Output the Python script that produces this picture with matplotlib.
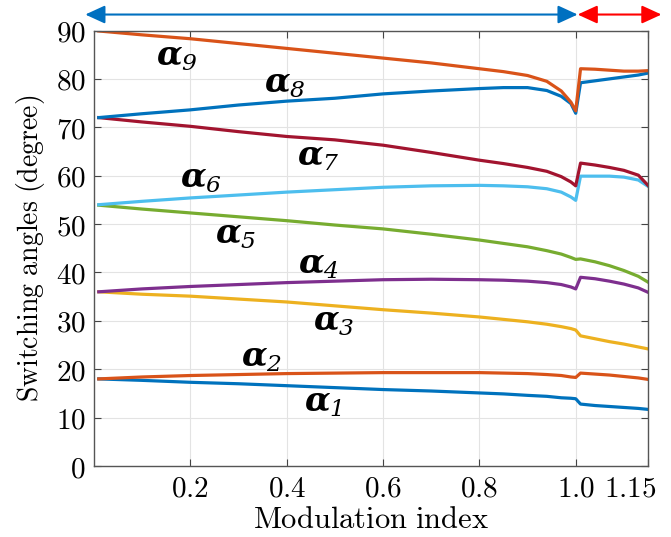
import numpy as np
import matplotlib
matplotlib.use("Agg")
import matplotlib.pyplot as plt
from matplotlib.transforms import ScaledTranslation

plt.rcParams['mathtext.fontset'] = 'cm'
plt.rcParams['mathtext.it'] = 'DejaVu Serif:italic:bold'
plt.rcParams['mathtext.rm'] = 'DejaVu Serif:italic'

# modulation index samples
m = [0.01, 0.1, 0.2, 0.3, 0.4, 0.5, 0.6, 0.7, 0.8, 0.85, 0.9, 0.94, 0.97, 0.99, 1.0,
     1.01, 1.04, 1.07, 1.1, 1.13, 1.15]

alpha1 = [18.0, 17.7, 17.3, 17.0, 16.6, 16.2, 15.8, 15.5, 15.1, 14.9, 14.6, 14.4, 14.1, 14.0, 13.9,
          12.8, 12.5, 12.3, 12.1, 11.9, 11.7]
alpha2 = [18.0, 18.4, 18.7, 18.9, 19.1, 19.2, 19.3, 19.3, 19.3, 19.2, 19.1, 18.9, 18.7, 18.4, 18.3,
          19.2, 19.0, 18.8, 18.5, 18.2, 17.9]
alpha3 = [36.0, 35.5, 35.1, 34.5, 33.9, 33.1, 32.3, 31.6, 30.8, 30.3, 29.8, 29.3, 28.8, 28.4, 28.1,
          26.9, 26.3, 25.7, 25.2, 24.6, 24.2]
alpha4 = [36.0, 36.6, 37.1, 37.5, 37.9, 38.2, 38.5, 38.6, 38.5, 38.4, 38.2, 37.9, 37.5, 37.0, 36.6,
          39.0, 38.7, 38.2, 37.6, 36.8, 35.9]
alpha5 = [53.9, 53.1, 52.3, 51.5, 50.7, 49.8, 49.0, 47.9, 46.7, 46.0, 45.3, 44.5, 43.8, 43.1, 42.7,
          42.8, 42.2, 41.4, 40.4, 39.2, 38.0]
alpha6 = [54.0, 54.7, 55.4, 56.0, 56.6, 57.1, 57.6, 57.9, 58.0, 57.9, 57.7, 57.3, 56.6, 55.6, 54.9,
          59.9, 59.9, 59.9, 59.7, 59.1, 57.8]
alpha7 = [72.0, 71.1, 70.2, 69.1, 68.1, 67.4, 66.3, 64.8, 63.2, 62.5, 61.7, 60.9, 59.8, 58.7, 57.9,
          62.6, 62.2, 61.7, 61.1, 60.1, 58.0]
alpha8 = [72.0, 72.8, 73.6, 74.6, 75.4, 76.0, 76.9, 77.5, 78.0, 78.2, 78.2, 77.6, 76.4, 74.9, 72.9,
          79.2, 79.6, 80.0, 80.4, 80.8, 81.2]
alpha9 = [89.9, 89.1, 88.3, 87.3, 86.3, 85.3, 84.3, 83.3, 82.1, 81.5, 80.7, 79.5, 77.5, 75.2, 73.4,
          82.1, 82.0, 81.8, 81.6, 81.6, 81.7]

series = [alpha1, alpha2, alpha3, alpha4, alpha5, alpha6, alpha7, alpha8, alpha9]
colors = ['#0072BD', '#D95319', '#EDB120', '#7E2F8E', '#77AC30',
          '#4DBEEE', '#A2142F', '#0072BD', '#D95319']
# label anchor (modulation index, angle)
label_x = [0.476, 0.349, 0.497, 0.466, 0.295, 0.222, 0.466, 0.397, 0.173]
label_y = [13.2, 22.5, 29.8, 41.7, 47.9, 59.5, 64.0, 79.1, 84.7]

xticks = [0.2, 0.4, 0.6, 0.8, 1.0, 1.15]
xticklabels = ['0.2', '0.4', '0.6', '0.8', '1.0', '1.15']
yticks = list(range(0, 91, 10))

fig = plt.figure(figsize=(6.71, 5.37), dpi=100)
ax = fig.add_axes([0.140, 0.1322, 0.8257, 0.811])

for i, s in enumerate(series):
    ax.plot(m, s, color=colors[i], lw=2.3, solid_joinstyle='round')
    ax.text(label_x[i], label_y[i], r'$\alpha_{%d}$' % (i + 1), fontsize=24,
            ha='center', va='center', math_fontfamily='custom')

ax.set_xlim(0, 1.15)
ax.set_ylim(0, 90)
ax.set_xticks(xticks)
ax.set_xticklabels(['$%s$' % t for t in xticklabels])
ax.set_yticks(yticks)
ax.set_yticklabels(['$%d$' % t for t in yticks])
ax.tick_params(direction='in', length=5, width=0.8, top=True, right=True,
               labelsize=21, color='#444444', pad=6)
# last label sits left of the right edge, as in the original
last = ax.get_xticklabels()[-1]
last.set_transform(last.get_transform() + ScaledTranslation(-18 / 100, 0, fig.dpi_scale_trans))

ax.grid(True, color='#e3e3e3', lw=0.8)
ax.set_axisbelow(True)
for sp in ax.spines.values():
    sp.set_color('#555555')
    sp.set_linewidth(1.0)

ax.set_xlabel(r'$\mathrm{Modulation\ index}$', fontsize=22, labelpad=2)
ax.set_ylabel(r'$\mathrm{Switching\ angles\ (degree)}$', fontsize=20, labelpad=6)

# operating regions above the plot
ax.annotate('', xy=(-0.018, 93.3), xytext=(1.004, 93.3), xycoords='data',
            arrowprops=dict(arrowstyle='<|-|>,head_length=1.2,head_width=0.55',
                            color='#0070C0', lw=1.5, shrinkA=0, shrinkB=0),
            annotation_clip=False)
ax.annotate('', xy=(1.004, 93.3), xytext=(1.178, 93.3), xycoords='data',
            arrowprops=dict(arrowstyle='<|-|>,head_length=1.2,head_width=0.55',
                            color='#FF0000', lw=1.5, shrinkA=0, shrinkB=0),
            annotation_clip=False)

fig.savefig('out.png', dpi=100)
